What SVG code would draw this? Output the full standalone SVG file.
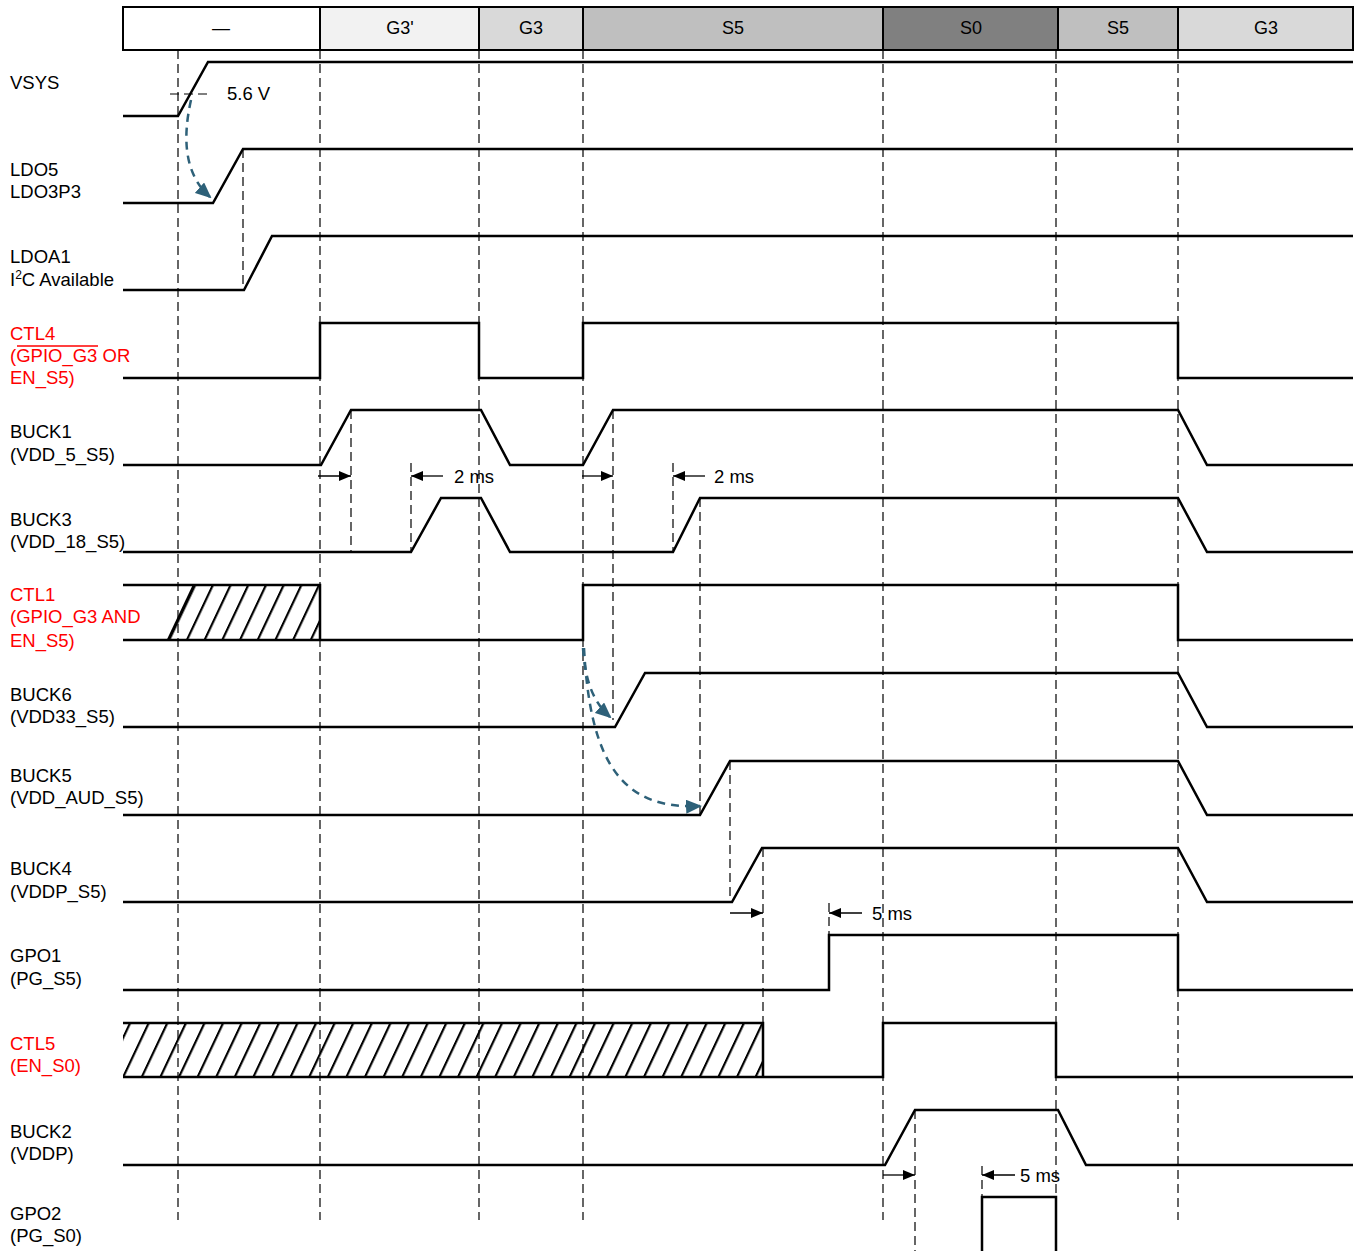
<svg xmlns="http://www.w3.org/2000/svg" width="1357" height="1251" viewBox="0 0 1357 1251">
<style>
text{font-family:"Liberation Sans",Arial,sans-serif;font-size:18.5px;fill:#000}
.red{fill:#ff0000}
.hd{font-size:18px;text-anchor:middle}
.w{fill:none;stroke:#000;stroke-width:2.5;stroke-linejoin:miter}
.d{fill:none;stroke:#000;stroke-width:1.2;stroke-dasharray:9,5}
.dim{fill:none;stroke:#000;stroke-width:1.3}
.blue{fill:none;stroke:#2e6179;stroke-width:2.5;stroke-dasharray:8,6}
.cell{stroke:#000;stroke-width:2}
</style>
<defs>
<pattern id="hatch1" patternUnits="userSpaceOnUse" width="17.7" height="55" patternTransform="translate(168,640) skewX(-25.3)">
<rect x="0" y="0" width="2.4" height="55" fill="#000"/>
</pattern>
<pattern id="hatch2" patternUnits="userSpaceOnUse" width="18.6" height="55" patternTransform="translate(122,1077) skewX(-25.3)">
<rect x="0" y="0" width="2.4" height="55" fill="#000"/>
</pattern>
<marker id="ah" viewBox="0 0 12 10" refX="12" refY="5" markerWidth="12" markerHeight="10" markerUnits="userSpaceOnUse" orient="auto">
<path d="M0,0 L12,5 L0,10 Z" fill="#000"/>
</marker>
<marker id="bh" viewBox="0 0 16 14" refX="14" refY="7" markerWidth="16" markerHeight="14" markerUnits="userSpaceOnUse" orient="auto">
<path d="M0,0 L16,7 L0,14 Z" fill="#2e6179"/>
</marker>
</defs>
<rect width="1357" height="1251" fill="#fff"/>

<g id="header">
<rect class="cell" x="123" y="7" width="197" height="43" fill="#ffffff"/>
<rect class="cell" x="320" y="7" width="159" height="43" fill="#f2f2f2"/>
<rect class="cell" x="479" y="7" width="104" height="43" fill="#d9d9d9"/>
<rect class="cell" x="583" y="7" width="300" height="43" fill="#bfbfbf"/>
<rect class="cell" x="883" y="7" width="175" height="43" fill="#808080"/>
<rect class="cell" x="1058" y="7" width="120" height="43" fill="#bfbfbf"/>
<rect class="cell" x="1178" y="7" width="175" height="43" fill="#d9d9d9"/>
<text class="hd" x="221" y="34">—</text>
<text class="hd" x="400" y="34">G3'</text>
<text class="hd" x="531" y="34">G3</text>
<text class="hd" x="733" y="34">S5</text>
<text class="hd" x="971" y="34">S0</text>
<text class="hd" x="1118" y="34">S5</text>
<text class="hd" x="1266" y="34">G3</text>
</g>

<g id="connectors">
<path class="d" d="M178,50V1220 M320,50V1220 M479,50V1220 M583,50V1220 M883,50V1220 M1056,50V1220 M1178,50V1220"/>
<path class="d" d="M243,149V290 M351,410V552 M411,463V552 M613,410V720 M673,463V552 M700,498V815 M730,761V902 M763,848V1077 M829,903V935 M915,1110V1251 M982,1166V1197"/>
<path class="d" d="M170,94H212"/>
<text x="227" y="100">5.6 V</text>
<line class="dim" x1="318" y1="476" x2="351" y2="476" marker-end="url(#ah)"/>
<line class="dim" x1="443" y1="476" x2="411" y2="476" marker-end="url(#ah)"/>
<text x="454" y="483">2 ms</text>
<line class="dim" x1="582" y1="476" x2="613" y2="476" marker-end="url(#ah)"/>
<line class="dim" x1="705" y1="476" x2="673" y2="476" marker-end="url(#ah)"/>
<text x="714" y="483">2 ms</text>
<line class="dim" x1="730" y1="913" x2="763" y2="913" marker-end="url(#ah)"/>
<line class="dim" x1="862" y1="913" x2="829" y2="913" marker-end="url(#ah)"/>
<text x="872" y="920">5 ms</text>
<line class="dim" x1="883" y1="1175" x2="915" y2="1175" marker-end="url(#ah)"/>
<line class="dim" x1="1015" y1="1175" x2="982" y2="1175" marker-end="url(#ah)"/>
<text x="1020" y="1182">5 ms</text>
<path class="blue" d="M191,100 C182,140 185,175 210,197" marker-end="url(#bh)"/>
<path class="blue" d="M583,648 C585,680 593,702 610,717" marker-end="url(#bh)"/>
<path class="blue" d="M584,648 C590,760 620,810 700,806" marker-end="url(#bh)"/>
</g>

<g id="VSYS">
<text x="10" y="89">VSYS</text>
<polyline class="w" points="123,116 178,116 208,62 1353,62"/>
</g>
<g id="LDO5">
<text x="10" y="176">LDO5</text>
<text x="10" y="198">LDO3P3</text>
<polyline class="w" points="123,203 213,203 243,149 1353,149"/>
</g>
<g id="LDOA1">
<text x="10" y="263">LDOA1</text>
<text x="10" y="286">I<tspan font-size="12" dy="-7">2</tspan><tspan dy="7">C Available</tspan></text>
<polyline class="w" points="123,290 244,290 272,236 1353,236"/>
</g>
<g id="CTL4">
<text class="red" x="10" y="340">CTL4</text>
<text class="red" x="10" y="362">(GPIO_G3 OR</text>
<text class="red" x="10" y="384">EN_S5)</text>
<line x1="17" y1="346" x2="98" y2="346" stroke="#ff0000" stroke-width="1.3"/>
<polyline class="w" points="123,378 320,378 320,323 479,323 479,378 583,378 583,323 1178,323 1178,378 1353,378"/>
</g>
<g id="BUCK1">
<text x="10" y="438">BUCK1</text>
<text x="10" y="461">(VDD_5_S5)</text>
<polyline class="w" points="123,465 321,465 351,410 481,410 510,465 583,465 613,410 1178,410 1207,465 1353,465"/>
</g>
<g id="BUCK3">
<text x="10" y="526">BUCK3</text>
<text x="10" y="548">(VDD_18_S5)</text>
<polyline class="w" points="123,552 411,552 441,498 481,498 510,552 673,552 700,498 1178,498 1207,552 1353,552"/>
</g>
<g id="CTL1">
<text class="red" x="10" y="601">CTL1</text>
<text class="red" x="10" y="623">(GPIO_G3 AND</text>
<text class="red" x="10" y="647">EN_S5)</text>
<polygon points="168,640 194,585 320,585 320,640" fill="url(#hatch1)"/>
<line x1="168" y1="640" x2="194" y2="585" stroke="#000" stroke-width="2.4"/>
<polyline class="w" points="123,585 320,585 320,640"/>
<polyline class="w" points="123,640 583,640 583,585 1178,585 1178,640 1353,640"/>
</g>
<g id="BUCK6">
<text x="10" y="701">BUCK6</text>
<text x="10" y="723">(VDD33_S5)</text>
<polyline class="w" points="123,727 615,727 645,673 1178,673 1207,727 1353,727"/>
</g>
<g id="BUCK5">
<text x="10" y="782">BUCK5</text>
<text x="10" y="804">(VDD_AUD_S5)</text>
<polyline class="w" points="123,815 700,815 730,761 1178,761 1207,815 1353,815"/>
</g>
<g id="BUCK4">
<text x="10" y="875">BUCK4</text>
<text x="10" y="898">(VDDP_S5)</text>
<polyline class="w" points="123,902 732,902 762,848 1178,848 1207,902 1353,902"/>
</g>
<g id="GPO1">
<text x="10" y="962">GPO1</text>
<text x="10" y="985">(PG_S5)</text>
<polyline class="w" points="123,990 829,990 829,935 1178,935 1178,990 1353,990"/>
</g>
<g id="CTL5">
<text class="red" x="10" y="1050">CTL5</text>
<text class="red" x="10" y="1072">(EN_S0)</text>
<rect x="123" y="1023" width="640" height="54" fill="url(#hatch2)"/>
<polyline class="w" points="123,1023 763,1023 763,1077"/>
<polyline class="w" points="123,1077 883,1077 883,1023 1056,1023 1056,1077 1353,1077"/>
</g>
<g id="BUCK2">
<text x="10" y="1138">BUCK2</text>
<text x="10" y="1160">(VDDP)</text>
<polyline class="w" points="123,1165 885,1165 915,1110 1058,1110 1086,1165 1353,1165"/>
</g>
<g id="GPO2">
<text x="10" y="1220">GPO2</text>
<text x="10" y="1242">(PG_S0)</text>
<polyline class="w" points="982,1253 982,1197 1056,1197 1056,1253"/>
</g>
</svg>
